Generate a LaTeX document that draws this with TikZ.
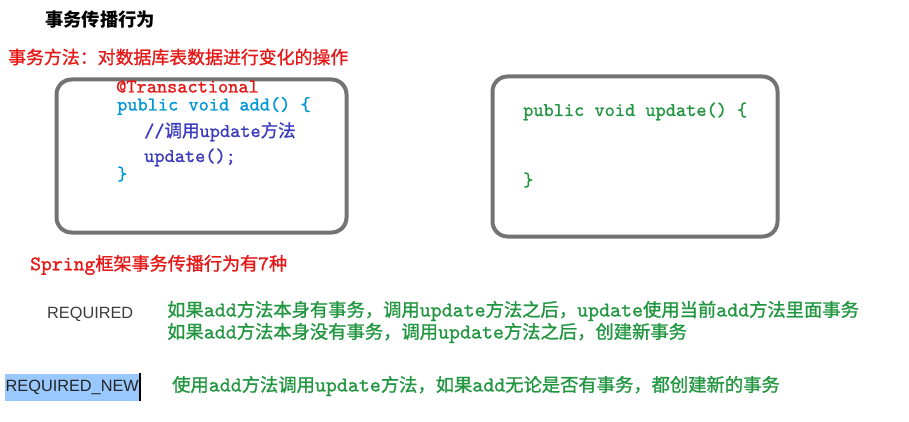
\documentclass[tikz,border=0pt]{standalone}
\usepackage{fontspec}
\newfontfamily\cjk[FakeBold=1.2]{Noto Sans CJK SC}
\newfontfamily\cjkplain{Noto Sans CJK SC}
\newfontfamily\lmm[FakeBold=1.2]{lmmono10-regular.otf}
\newfontfamily\lsans{Liberation Sans}
\makeatletter
\newcommand\en[1]{{\lmm\fontsize{\fpeval{1.143*\f@size}}{0}\selectfont #1}}
\newcommand\zh[1]{{\cjk\fontsize{17.5}{0}\selectfont #1}}
\makeatother
\definecolor{redtxt}{RGB}{230,25,25}
\definecolor{codeblue}{RGB}{0,150,215}
\definecolor{codeindigo}{RGB}{60,60,190}
\definecolor{grn}{RGB}{35,150,65}
\definecolor{boxgray}{RGB}{115,115,115}
\definecolor{hl}{RGB}{153,200,255}
\definecolor{reqgray}{RGB}{60,60,60}
\begin{document}
\begin{tikzpicture}[x=1pt,y=-1pt,
  txt/.style={anchor=west,inner sep=0pt},
  cjktxt/.style={txt,font=\cjk\fontsize{#1}{22}\selectfont},
  code/.style={txt,font=\lmm\fontsize{19.4}{22}\selectfont,text height=10pt,text depth=2pt},
  box/.style={draw=boxgray,line width=4pt,rounded corners=15pt,anchor=north west,inner sep=0pt},
  mode/.style={txt,font=\lsans\fontsize{16.3}{18}\selectfont}]
\useasboundingbox (0,0) rectangle (909,422);
\node[txt,font=\cjkplain\bfseries\fontsize{18.3}{22}\selectfont] (title) at (45,20) {事务传播行为};
\node[cjktxt=17.9,text=redtxt] (def) at (8,57) {事务方法：对数据库表数据进行变化的操作};
% left box
\node[box,minimum width=290pt,minimum height=153pt] (lbox) at (54.5,77.5) {};
\node[code,text=redtxt] (anno) at (116,88.5) {@Transactional};
\node[code,text=codeblue] (addsig) at (117,106.5) {public void add() \{};
\node[code,text=codeindigo] (cmt) at (144,133) {//\zh{调用}update\zh{方法}};
\node[code,text=codeindigo] (call) at (144,158) {update();};
\node[code,text=codeblue] (addend) at (117,176) {\}};
% right box
\node[box,minimum width=285pt,minimum height=160pt] (rbox) at (490.5,74.5) {};
\node[code,text=grn] (updsig) at (523,112) {public void update() \{};
\node[code,text=grn] (updend) at (523,182) {\}};
% bottom
\node[cjktxt=18.1,text=redtxt] (seven) at (30,265) {\en{Spring}框架事务传播行为有\en{7}种};
\node[mode,text=reqgray] (req) at (47,314) {REQUIRED};
\node[cjktxt=18.3,text=grn] (req1) at (167,311) {如果\en{add}方法本身有事务，调用\en{update}方法之后，\en{update}使用当前\en{add}方法里面事务};
\node[cjktxt=18.3,text=grn] (req2) at (167,333) {如果\en{add}方法本身没有事务，调用\en{update}方法之后，创建新事务};
\node[mode,fill=hl,text=reqgray!60!black,minimum height=27pt,inner xsep=0.5pt] (reqnew) at (5,387) {REQUIRED\_NEW};
\draw[line width=2pt,black] (reqnew.north east) -- (reqnew.south east);
\node[cjktxt=18.3,text=grn] (new1) at (172,386) {使用\en{add}方法调用\en{update}方法，如果\en{add}无论是否有事务，都创建新的事务};
\end{tikzpicture}
\end{document}
